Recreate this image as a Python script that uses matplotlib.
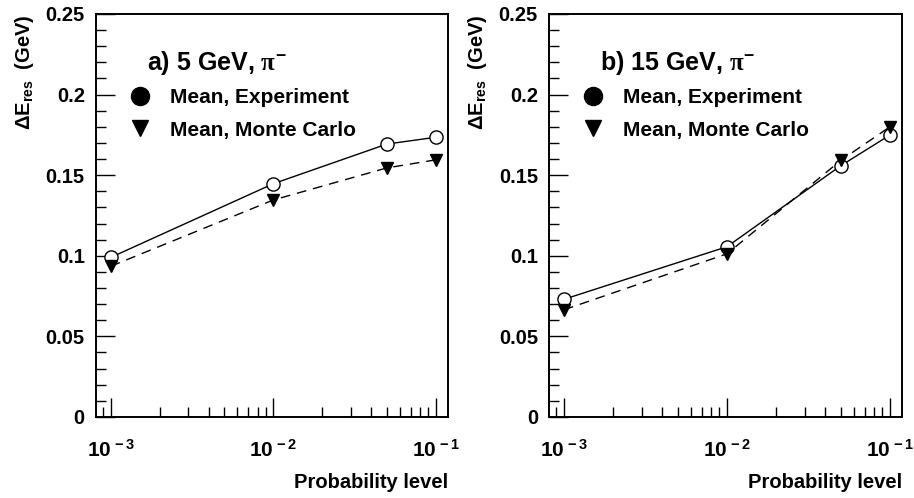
import matplotlib
matplotlib.use("Agg")
import matplotlib.pyplot as plt
from matplotlib.lines import Line2D
from matplotlib.ticker import FixedLocator, LogLocator, NullFormatter, MultipleLocator

plt.rcParams['font.family'] = ['Liberation Sans', 'DejaVu Sans']
plt.rcParams['font.weight'] = 'bold'
plt.rcParams['axes.labelweight'] = 'bold'
plt.rcParams['mathtext.fontset'] = 'custom'
plt.rcParams['mathtext.rm'] = 'Liberation Sans:bold'
plt.rcParams['mathtext.bf'] = 'Liberation Sans:bold'
plt.rcParams['mathtext.it'] = 'Liberation Serif'

prob = [1e-3, 1e-2, 5e-2, 1e-1]

exp_5 = [0.099, 0.1447, 0.1693, 0.1735]
mc_5 = [0.0935, 0.1346, 0.1545, 0.1595]

exp_15 = [0.073, 0.1056, 0.1559, 0.1749]
mc_15 = [0.0665, 0.1012, 0.1592, 0.1800]

panels = [
    ("a) 5 GeV, $\\pi^{-}$", exp_5, mc_5),
    ("b) 15 GeV, $\\pi^{-}$", exp_15, mc_15),
]

xtick_vals = [1e-3, 1e-2, 1e-1]
xtick_labels = ["$10^{\\,-3}$", "$10^{\\,-2}$", "$10^{\\,-1}$"]

fig = plt.figure(figsize=(9.14, 4.98), dpi=100)
boxes = [[0.105, 0.1627, 0.385, 0.8093], [0.6007, 0.1627, 0.3862, 0.8093]]

for box, (title, exp, mc) in zip(boxes, panels):
    ax = fig.add_axes(box)
    ax.set_xscale('log')
    ax.set_xlim(8.1e-4, 0.1186)
    ax.set_ylim(0, 0.25)

    ax.plot(prob, exp, color='black', lw=1.0, ls='-', marker='o', ms=9.5,
            mfc='white', mec='black', mew=1.0)
    ax.plot(prob, mc, color='black', lw=1.0, ls=(0, (7, 5)), marker='v', ms=9,
            mfc='black', mec='black')

    ax.xaxis.set_major_locator(FixedLocator(xtick_vals))
    ax.set_xticklabels(xtick_labels)
    ax.xaxis.set_minor_locator(LogLocator(base=10, subs=range(2, 10)))
    ax.xaxis.set_minor_formatter(NullFormatter())
    ax.yaxis.set_minor_locator(MultipleLocator(0.01))
    ax.set_yticks([0, 0.05, 0.1, 0.15, 0.2, 0.25])
    ax.set_yticklabels(["0", "0.05", "0.1", "0.15", "0.2", "0.25"])

    ax.tick_params(which='major', direction='in', length=14, width=1.0,
                   labelsize=14.5, top=False, right=False)
    ax.tick_params(which='minor', direction='in', length=7, width=1.0,
                   top=False, right=False)
    ax.tick_params(axis='x', which='major', pad=16, labelsize=15)
    ax.tick_params(axis='y', which='major', pad=8)
    for sp in ax.spines.values():
        sp.set_linewidth(1.4)

    ax.set_ylabel("$\\Delta\\mathrm{E}_{\\mathrm{res}}$  (GeV)", fontsize=14.5,
                  loc='top', labelpad=7)
    ax.set_xlabel("Probability level", fontsize=14.5, loc='right', labelpad=9)

    ax.text(0.145, 0.878, title, transform=ax.transAxes, fontsize=18,
            fontweight='bold', va='center', ha='left')

    handles = [
        Line2D([], [], ls='none', marker='o', ms=13, color='black'),
        Line2D([], [], ls='none', marker='v', ms=11, color='black'),
    ]
    ax.legend(handles, ["Mean, Experiment", "Mean, Monte Carlo"],
              loc='upper left', bbox_to_anchor=(0.072, 0.837), frameon=False,
              fontsize=15, handlelength=1.0, handletextpad=0.95,
              labelspacing=0.66, borderaxespad=0)

fig.savefig("out.png", dpi=100)
